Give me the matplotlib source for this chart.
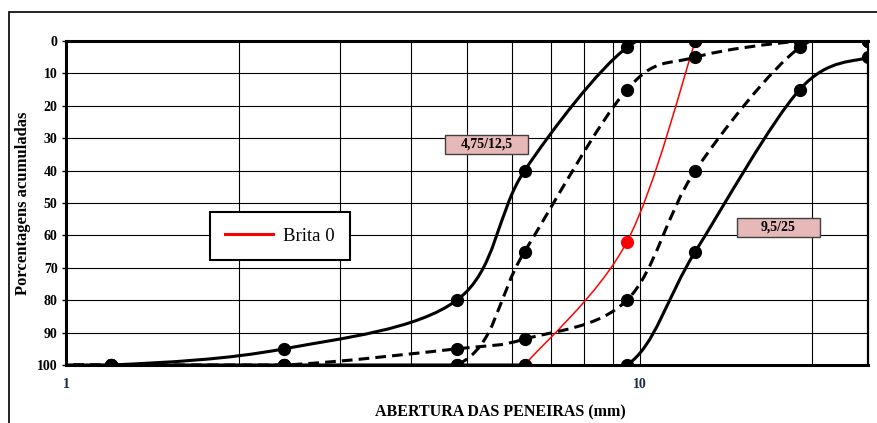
import numpy as np
import matplotlib
matplotlib.use("Agg")
import matplotlib.pyplot as plt
from matplotlib.path import Path
from matplotlib.patches import PathPatch, Rectangle
from matplotlib.lines import Line2D
from matplotlib.ticker import FixedLocator, NullFormatter, LogLocator

plt.rcParams['font.family'] = ['Liberation Serif', 'DejaVu Serif']

# sieve openings (mm) and accumulated retained percentages
sieves = [0.6, 1.2, 2.4, 4.8, 6.3, 9.5, 12.5, 19, 25]
inf_475 = [100, 100, 95, 80, 40, 2, 0, 0, 0]          # 4,75/12,5 solid
sup_475 = [100, 100, 100, 100, 65, 15, 5, 0, 0]       # 4,75/12,5 dashed
sup_95 = [100, 100, 100, 95, 92, 80, 40, 2, 0]        # 9,5/25 dashed
inf_95 = [100, 100, 100, 100, 100, 100, 65, 15, 5]    # 9,5/25 solid
brita_x = [6.3, 9.5, 12.5]
brita_y = [100, 62, 0]

y_ticks = list(range(0, 101, 10))


def smooth_path(xs, ys):
    # Catmull-Rom style bezier control points in log-x space (like excel smoothed lines)
    pts = np.column_stack([np.log10(xs), np.asarray(ys, float)])
    n = len(pts)
    verts = [pts[0]]
    codes = [Path.MOVETO]
    for i in range(n - 1):
        p0 = pts[max(i - 1, 0)]
        p1 = pts[i]
        p2 = pts[i + 1]
        p3 = pts[min(i + 2, n - 1)]
        verts += [p1 + (p2 - p0) / 6, p2 - (p3 - p1) / 6, p2]
        codes += [Path.CURVE4] * 3
    verts = np.array(verts)
    verts[:, 0] = 10 ** verts[:, 0]
    return Path(verts, codes)


fig = plt.figure(figsize=(8.77, 4.23), dpi=100)
ax = fig.add_axes([66 / 877, 1 - 365 / 423, (868 - 66) / 877, 324 / 423])
ax.set_xscale('log')

lw = 2.2
dash = (0, (3.5, 2))

# red curve
ax.add_patch(PathPatch(smooth_path(brita_x, brita_y), facecolor='none',
                       edgecolor='red', lw=1.1, zorder=3))
ax.plot(brita_x, brita_y, 'o', color='red', ms=8.5, zorder=3)

for ys, ls in [(inf_475, '-'), (sup_475, dash), (sup_95, dash), (inf_95, '-')]:
    ax.add_patch(PathPatch(smooth_path(sieves, ys), facecolor='none',
                           edgecolor='black', lw=lw, linestyle=ls, zorder=4))
    ax.plot(sieves, ys, 'o', color='black', ms=8.5, zorder=5)

ax.set_xlim(1, 25)
ax.set_ylim(100, 0)

ax.xaxis.set_major_locator(FixedLocator([1, 10]))
ax.xaxis.set_minor_locator(LogLocator(base=10, subs=np.arange(2, 10)))
ax.xaxis.set_minor_formatter(NullFormatter())
ax.set_xticklabels(['1', '10'])
ax.set_yticks(y_ticks)
ax.grid(True, which='both', color='black', lw=0.8, zorder=1)
ax.set_axisbelow(True)

ax.tick_params(axis='x', which='both', length=0, pad=9, labelsize=10, labelcolor='#1c2848')
ax.tick_params(axis='y', length=3, width=1, pad=3, labelsize=10)
for lab in ax.get_xticklabels() + ax.get_yticklabels():
    lab.set_fontweight('bold')

for side in ['left', 'bottom', 'top']:
    ax.spines[side].set_linewidth(2.2)
ax.spines['right'].set_linewidth(1.6)

ax.set_ylabel('Porcentagens acumuladas', fontsize=12, fontweight='bold', labelpad=4)
fig.text(500 / 877, 1 - 412 / 423, 'ABERTURA DAS PENEIRAS (mm)', ha='center', va='center',
         fontsize=11.5, fontweight='bold')

# series labels
def label_box(x0, x1, y0, y1, text):
    ax0 = (x0 - 66) / 802
    w = (x1 - x0) / 802
    ay = 1 - (y1 - 41) / 324
    h = (y1 - y0) / 324
    ax.add_patch(Rectangle((ax0, ay), w, h, transform=ax.transAxes, facecolor='#e6b8b7',
                           edgecolor='#404040', lw=1, zorder=6))
    ax.text(ax0 + w / 2, ay + h / 2, text, transform=ax.transAxes, ha='center', va='center',
            fontsize=10, fontweight='bold', zorder=7)

label_box(445, 528, 135, 154, '4,75/12,5')
label_box(737, 820, 218, 237, '9,5/25')

leg = ax.legend(handles=[Line2D([], [], color='red', lw=2.2)], labels=['Brita 0'],
                loc='center', bbox_to_anchor=(0.2668, 0.398), fontsize=13.5, frameon=True,
                fancybox=False, edgecolor='black', framealpha=1, borderpad=0.8,
                handlelength=2.55, handletextpad=0.55)
leg.get_frame().set_linewidth(1.5)
leg.set_zorder(8)

# outer frame of the figure
fig.patches.append(Rectangle((9 / 877, -0.1), 1.2, 1 - 12 / 423 + 0.1, transform=fig.transFigure,
                             facecolor='none', edgecolor='black', lw=1.2))

fig.savefig('out.png', dpi=100)
